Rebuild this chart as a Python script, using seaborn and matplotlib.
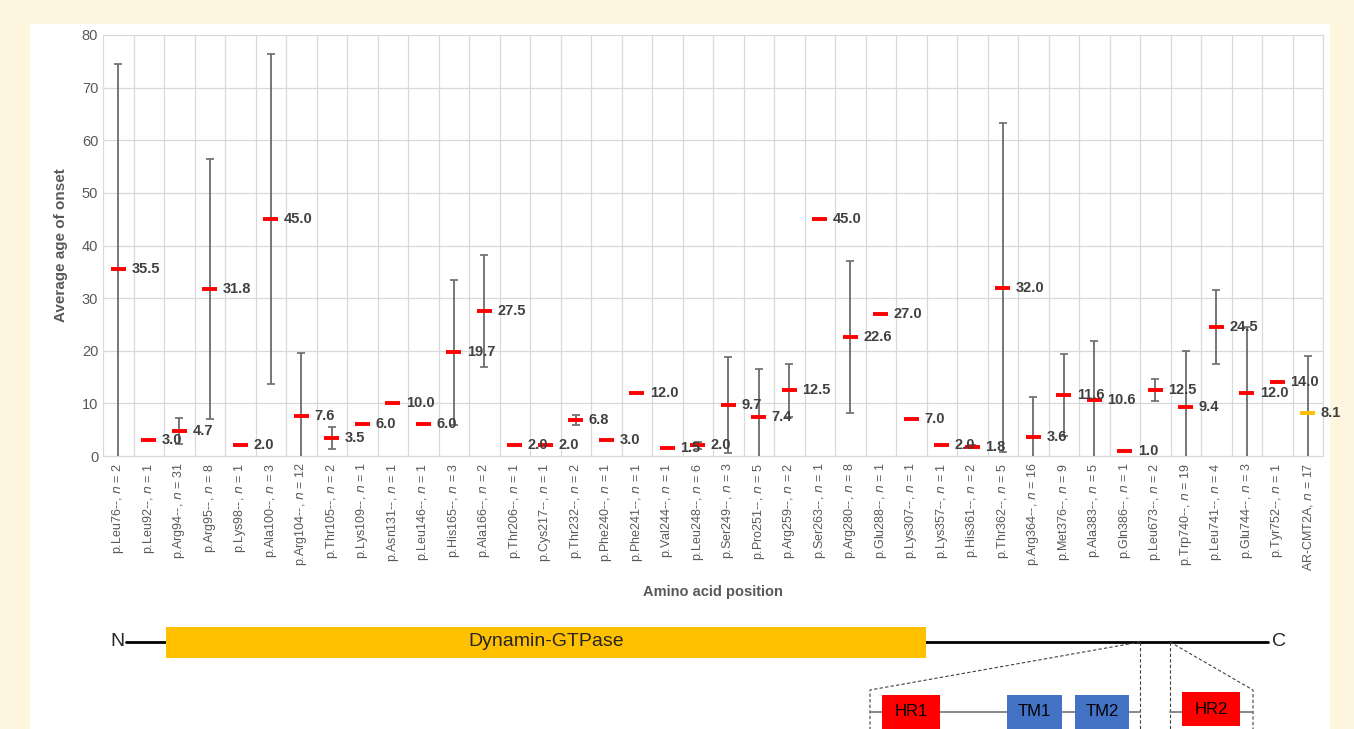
import numpy as np
import pandas as pd
import matplotlib.pyplot as plt
import seaborn as sns
from matplotlib.patches import Rectangle

# Mutation positions, patient counts, mean age of onset and error (SD)
positions = ["p.Leu76--", "p.Leu92--", "p.Arg94--", "p.Arg95--", "p.Lys98--",
             "p.Ala100--", "p.Arg104--", "p.Thr105--", "p.Lys109--", "p.Asn131--",
             "p.Leu146--", "p.His165--", "p.Ala166--", "p.Thr206--", "p.Cys217--",
             "p.Thr232--", "p.Phe240--", "p.Phe241--", "p.Val244--", "p.Leu248--",
             "p.Ser249--", "p.Pro251--", "p.Arg259--", "p.Ser263--", "p.Arg280--",
             "p.Glu288--", "p.Lys307--", "p.Lys357--", "p.His361--", "p.Thr362--",
             "p.Arg364--", "p.Met376--", "p.Ala383--", "p.Gln386--", "p.Leu673--",
             "p.Trp740--", "p.Leu741--", "p.Glu744--", "p.Tyr752--", "AR-CMT2A"]
n_patients = [2, 1, 31, 8, 1, 3, 12, 2, 1, 1,
              1, 3, 2, 1, 1, 2, 1, 1, 1, 6,
              3, 5, 2, 1, 8, 1, 1, 1, 2, 5,
              16, 9, 5, 1, 2, 19, 4, 3, 1, 17]
mean_onset = [35.5, 3.0, 4.7, 31.8, 2.0, 45.0, 7.6, 3.5, 6.0, 10.0,
              6.0, 19.7, 27.5, 2.0, 2.0, 6.8, 3.0, 12.0, 1.5, 2.0,
              9.7, 7.4, 12.5, 45.0, 22.6, 27.0, 7.0, 2.0, 1.8, 32.0,
              3.6, 11.6, 10.6, 1.0, 12.5, 9.4, 24.5, 12.0, 14.0, 8.1]
sd_onset = [39.0, 0, 2.5, 24.7, 0, 31.3, 11.9, 2.1, 0, 0,
            0, 13.8, 10.6, 0, 0, 1.0, 0, 0, 0, 0.6,
            9.1, 9.1, 5.0, 0, 14.4, 0, 0, 0, 0.3, 31.3,
            7.6, 7.8, 11.2, 0, 2.1, 10.6, 7.0, 12.5, 0, 10.9]

labels = [f"{p}, $n$ = {n}" for p, n in zip(positions, n_patients)]
df = pd.DataFrame({"label": labels, "onset": mean_onset, "sd": sd_onset})
df["x"] = np.arange(len(df))
df["group"] = ["AR" if p == "AR-CMT2A" else "AD" for p in positions]

sns.set_style("white")
plt.rcParams['font.family'] = ['Liberation Sans', 'DejaVu Sans']

fig = plt.figure(figsize=(13.54, 7.29), dpi=100)
fig.patch.set_facecolor("#fdf5dd")

# white panel
bg = fig.add_axes([0, 0, 1, 1], zorder=-5)
bg.set_xlim(0, 1354)
bg.set_ylim(729, 0)
bg.axis("off")
bg.add_patch(Rectangle((30, 24), 1300, 710, facecolor="white", edgecolor="none"))

ax = fig.add_axes([103 / 1354, 1 - 456 / 729, 1220 / 1354, 421 / 729])
ax.set_facecolor("white")

# error bars
err = df[df["sd"] > 0]
ax.errorbar(err["x"], err["onset"], yerr=err["sd"], fmt="none",
            ecolor="#6b6b6b", elinewidth=1.3, capsize=3, capthick=1.2, zorder=2)

sns.scatterplot(data=df, x="x", y="onset", hue="group", marker="_", s=110,
                linewidth=2.8, palette={"AD": "#ff0000", "AR": "#ffc000"},
                legend=False, ax=ax, zorder=3)

for _, r in df.iterrows():
    ax.text(r["x"] + 0.43, r["onset"], f"{r['onset']:.1f}", ha="left", va="center",
            fontsize=10.5, fontweight="bold", color="#404040", zorder=4)

ax.set_xlim(-0.5, len(df) - 0.5)
ax.set_ylim(0, 80)
ax.set_yticks(range(0, 81, 10))
ax.set_xticks(df["x"])
ax.set_xticklabels(df["label"], rotation=90, fontsize=9, color="#595959")
ax.tick_params(axis="y", labelsize=10.5, labelcolor="#595959", length=0)
ax.tick_params(axis="x", length=0, pad=5)
ax.set_xticks(np.arange(-0.5, len(df), 1), minor=True)
ax.grid(True, axis="y", color="#d9d9d9", linewidth=0.9)
ax.grid(True, axis="x", which="minor", color="#d9d9d9", linewidth=0.9)
ax.grid(False, axis="x", which="major")
for s in ax.spines.values():
    s.set_color("#d9d9d9")
ax.spines["left"].set_visible(False)
ax.set_ylabel("Average age of onset", fontsize=11, fontweight="bold", color="#595959", labelpad=10)
ax.set_xlabel("Amino acid position", fontsize=10.5, fontweight="bold", color="#595959", labelpad=10)

# protein domain diagram
d = fig.add_axes([0, 0, 1, 1], zorder=-1)
d.set_xlim(0, 1354)
d.set_ylim(729, 0)
d.axis("off")
d.plot([126, 1268], [642, 642], color="black", lw=2, zorder=1)
d.add_patch(Rectangle((166, 627), 760, 31, facecolor="#ffc000", edgecolor="none", zorder=2))
d.text(546, 642, "Dynamin-GTPase", ha="center", va="center", fontsize=14, zorder=3)
d.text(117, 642, "N", ha="center", va="center", fontsize=14)
d.text(1279, 642, "C", ha="center", va="center", fontsize=14)
dash = dict(color="#404040", lw=0.8, ls=(0, (3, 2)))
d.plot([1140, 870, 870], [642, 690, 729], **dash)
d.plot([1140, 1140], [642, 729], **dash)
d.plot([1170, 1170], [642, 729], **dash)
d.plot([1170, 1253, 1253], [642, 690, 729], **dash)
d.plot([870, 1140], [712, 712], color="#7f7f7f", lw=1.3)
d.plot([1170, 1253], [712, 712], color="#7f7f7f", lw=1.3)
for x0, w, c, t in [(882, 58, "#ff0000", "HR1"), (1007, 55, "#4472c4", "TM1"),
                    (1075, 54, "#4472c4", "TM2"), (1182, 58, "#ff0000", "HR2")]:
    y0 = 692 if t == "HR2" else 695
    d.add_patch(Rectangle((x0, y0), w, 34, facecolor=c, edgecolor="none", zorder=3))
    d.text(x0 + w / 2, y0 + 17, t, ha="center", va="center", fontsize=12, color="black", zorder=4)

fig.savefig("out.png", dpi=100)
